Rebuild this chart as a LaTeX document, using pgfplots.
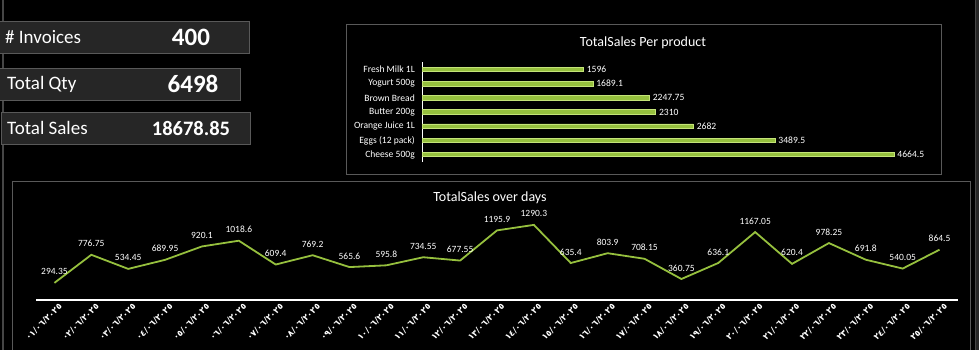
\documentclass[border=0pt]{standalone}
\usepackage{pgfplots}
\pgfplotsset{compat=1.18}
\usepackage{fontspec}
\setmainfont{Carlito}
\newfontfamily\arabicfont{DejaVu Sans}
\definecolor{panel}{RGB}{38,38,38}
\definecolor{edge}{RGB}{89,89,89}
\definecolor{frame}{RGB}{70,70,70}
\definecolor{lime}{RGB}{150,192,62}
\definecolor{limeedge}{RGB}{196,228,120}

\pgfplotstableread{
x y label
0 294.35 294.35
1 776.75 776.75
2 534.45 534.45
3 689.95 689.95
4 920.1 920.1
5 1018.6 1018.6
6 609.4 609.4
7 769.2 769.2
8 565.6 565.6
9 595.8 595.8
10 734.55 734.55
11 677.55 677.55
12 1195.9 1195.9
13 1290.3 1290.3
14 635.4 635.4
15 803.9 803.9
16 708.15 708.15
17 360.75 360.75
18 636.1 636.1
19 1167.05 1167.05
20 620.4 620.4
21 978.25 978.25
22 691.8 691.8
23 540.05 540.05
24 864.5 864.5
}\daysales

\pgfplotstableread{
x y label
4664.5 0 4664.5
3489.5 1 3489.5
2682 2 2682
2310 3 2310
2247.75 4 2247.75
1689.1 5 1689.1
1596 6 1596
}\prodsales

\begin{document}
\begin{tikzpicture}
\path[use as bounding box] (0,0) rectangle (979bp,-350bp);
\fill[black] (0,0) rectangle (979bp,-350bp);
% side strips
\draw[frame, line width=1.6bp] (3bp,0) -- (3bp,-350bp);
\fill[panel] (975bp,0) rectangle (979bp,-350bp);
\draw[frame, line width=1bp] (975.5bp,0) -- (975.5bp,-350bp);

% KPI boxes
\filldraw[fill=panel, draw=edge, line width=1bp] (-1bp,-21bp) rectangle (249bp,-53bp);
\filldraw[fill=panel, draw=edge, line width=1bp] (-1bp,-68bp) rectangle (240bp,-100bp);
\filldraw[fill=panel, draw=edge, line width=1bp] (1bp,-112bp) rectangle (250bp,-144bp);
\node[anchor=west, text=white, inner sep=0pt, font=\fontsize{19bp}{22bp}\selectfont] at (5bp,-37bp) {\# Invoices};
\node[anchor=west, text=white, inner sep=0pt, font=\fontsize{19bp}{22bp}\selectfont] at (7bp,-84bp) {Total Qty};
\node[anchor=west, text=white, inner sep=0pt, font=\fontsize{19bp}{22bp}\selectfont] at (7bp,-128bp) {Total Sales};
\node[text=white, inner sep=0pt, font=\bfseries\fontsize{25bp}{28bp}\selectfont] at (191bp,-37bp) {400};
\node[text=white, inner sep=0pt, font=\bfseries\fontsize{25bp}{28bp}\selectfont] at (193bp,-84bp) {6498};
\node[text=white, inner sep=0pt, font=\bfseries\fontsize{20.5bp}{24bp}\selectfont] at (191bp,-128bp) {18678.85};

% panels
\draw[edge, line width=1bp] (346bp,-24bp) rectangle (941bp,-174bp);
\draw[edge, line width=1bp] (12bp,-181bp) rectangle (970bp,-352bp);
\node[text=white, font=\fontsize{14bp}{16bp}\selectfont] at (643bp,-42.5bp) {TotalSales Per product};
\node[text=white, font=\fontsize{14bp}{16bp}\selectfont] at (490bp,-197.5bp) {TotalSales over days};

% bar chart
\begin{axis}[
  at={(422bp,-62.4bp)}, anchor=north west,
  scale only axis, width=506bp, height=99.2bp,
  xmin=0, xmax=5000, ymin=-0.5, ymax=6.5,
  xbar, bar width=4.5bp,
  axis y line=left, axis x line=none,
  axis line style={white, line width=1bp, -},
  ytick={0,...,6},
  yticklabels={Cheese 500g, Eggs (12 pack), Orange Juice 1L, Butter 200g, Brown Bread, Yogurt 500g, Fresh Milk 1L},
  major tick length=0pt,
  yticklabel style={text=white, font=\fontsize{9.6bp}{11bp}\selectfont, inner sep=1bp, xshift=-6bp},
  clip=false,
]
\addplot[fill=lime, draw=limeedge, line width=0.7bp,
  nodes near coords, point meta=explicit symbolic,
  every node near coord/.append style={text=white, font=\fontsize{9.6bp}{11bp}\selectfont, anchor=west, inner sep=3bp}]
  table[x=x, y=y, meta=label] {\prodsales};
\end{axis}

% line chart
\begin{axis}[
  at={(36bp,-300bp)}, anchor=south west,
  scale only axis, width=922bp, height=81.5bp,
  xmin=-0.5, xmax=24.5, ymin=0, ymax=1400,
  axis x line=bottom, axis y line=none,
  axis line style={white, line width=1.2bp, -},
  xtick={0,...,24},
  xticklabels={٠١/٠٦/٢٠٢٥,٠٢/٠٦/٢٠٢٥,٠٣/٠٦/٢٠٢٥,٠٤/٠٦/٢٠٢٥,٠٥/٠٦/٢٠٢٥,٠٦/٠٦/٢٠٢٥,٠٧/٠٦/٢٠٢٥,٠٨/٠٦/٢٠٢٥,٠٩/٠٦/٢٠٢٥,١٠/٠٦/٢٠٢٥,١١/٠٦/٢٠٢٥,١٢/٠٦/٢٠٢٥,١٣/٠٦/٢٠٢٥,١٤/٠٦/٢٠٢٥,١٥/٠٦/٢٠٢٥,١٦/٠٦/٢٠٢٥,١٧/٠٦/٢٠٢٥,١٨/٠٦/٢٠٢٥,١٩/٠٦/٢٠٢٥,٢٠/٠٦/٢٠٢٥,٢١/٠٦/٢٠٢٥,٢٢/٠٦/٢٠٢٥,٢٣/٠٦/٢٠٢٥,٢٤/٠٦/٢٠٢٥,٢٥/٠٦/٢٠٢٥},
  major tick length=0pt,
  xticklabel style={text=white, font=\arabicfont\bfseries\fontsize{8.5bp}{10bp}\selectfont, rotate=45, anchor=east, inner sep=1bp, yshift=-8bp, xshift=2bp},
  clip=false,
]
\addplot[lime, line width=1.8bp, mark=none,
  nodes near coords, point meta=explicit symbolic,
  every node near coord/.append style={text=white, font=\fontsize{9.5bp}{11bp}\selectfont, anchor=south, inner sep=2bp, yshift=5bp}]
  table[x=x, y=y, meta=label] {\daysales};
\end{axis}
\end{tikzpicture}
\end{document}
